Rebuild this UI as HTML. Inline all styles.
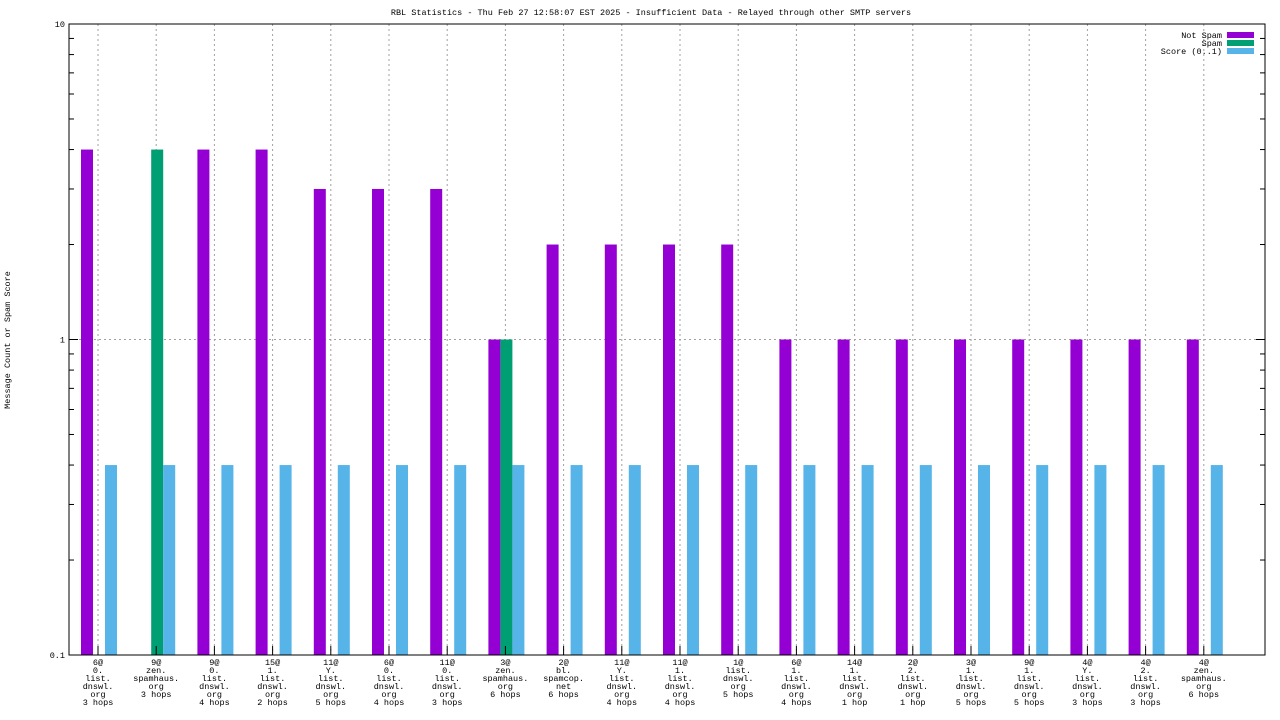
<!DOCTYPE html>
<html><head><meta charset="utf-8"><style>
body{margin:0;background:#fff;}
svg{display:block;font-family:"Liberation Mono","DejaVu Sans Mono",monospace;font-size:8.5px;}
</style></head><body>
<svg id="chart" width="1280" height="720" xmlns="http://www.w3.org/2000/svg">
<text x="651" y="15" text-anchor="middle">RBL Statistics - Thu Feb 27 12:58:07 EST 2025 - Insufficient Data - Relayed through other SMTP servers</text>
<text transform="translate(10,340) rotate(-90)" text-anchor="middle">Message Count or Spam Score</text>
<g id="grid"></g><g id="bars"></g><g id="axes"></g><g id="labels"></g>
<g>
<text x="1222" y="38" text-anchor="end">Not Spam</text>
<rect x="1227" y="32" width="27" height="6" fill="#9400d3"/>
<text x="1222" y="46" text-anchor="end">Spam</text>
<rect x="1227" y="40" width="27" height="6" fill="#009e73"/>
<text x="1222" y="54" text-anchor="end">Score (0..1)</text>
<rect x="1227" y="48" width="27" height="6" fill="#56b4e9"/>
</g>
</svg>
<script>
const categories=[
["6@","0.","list.","dnswl.","org","3 hops"],["9@","zen.","spamhaus.","org","3 hops"],["9@","0.","list.","dnswl.","org","4 hops"],["15@","1.","list.","dnswl.","org","2 hops"],["11@","Y.","list.","dnswl.","org","5 hops"],["6@","0.","list.","dnswl.","org","4 hops"],["11@","0.","list.","dnswl.","org","3 hops"],["3@","zen.","spamhaus.","org","6 hops"],["2@","bl.","spamcop.","net","6 hops"],["11@","Y.","list.","dnswl.","org","4 hops"],["11@","1.","list.","dnswl.","org","4 hops"],["1@","list.","dnswl.","org","5 hops"],["6@","1.","list.","dnswl.","org","4 hops"],["14@","1.","list.","dnswl.","org","1 hop"],["2@","2.","list.","dnswl.","org","1 hop"],["3@","1.","list.","dnswl.","org","5 hops"],["9@","1.","list.","dnswl.","org","5 hops"],["4@","Y.","list.","dnswl.","org","3 hops"],["4@","2.","list.","dnswl.","org","3 hops"],["4@","zen.","spamhaus.","org","6 hops"]];
const notSpam=[4,0,4,4,3,3,3,1,2,2,2,2,1,1,1,1,1,1,1,1];
const spam=[0,4,0,0,0,0,0,1,0,0,0,0,0,0,0,0,0,0,0,0];
const score=[0.4,0.4,0.4,0.4,0.4,0.4,0.4,0.4,0.4,0.4,0.4,0.4,0.4,0.4,0.4,0.4,0.4,0.4,0.4,0.4];
const yTicks=[0.1,1,10];
const yTickLabels=["0.1","1","10"];
const NS="http://www.w3.org/2000/svg";
const L=69,R=1265,T=24,B=655;
function y(v){return B-(Math.log10(v)+1)*(B-T)/2;}
function x(i){return 98+i*58.2;}
function mk(tag,attrs,parent){const e=document.createElementNS(NS,tag);for(const k in attrs)e.setAttribute(k,attrs[k]);document.getElementById(parent).appendChild(e);return e;}
// grid
categories.forEach((c,i)=>{const g=mk('line',{x1:x(i),x2:x(i),y1:T,y2:B,stroke:'#a0a0a0','stroke-dasharray':'2,3','stroke-width':1},'grid');

});
yTicks.forEach((t,k)=>{
 if(t>0.1&&t<10){const g=mk('line',{x1:L,x2:R,y1:y(t),y2:y(t),stroke:'#a0a0a0','stroke-dasharray':'2,3'},'grid');
 
 }
 const tl=mk('text',{x:L-4,y:y(t)+3,'text-anchor':'end'},'labels');tl.textContent=yTickLabels[k];
 
 
 [L,R].forEach(px=>{const tk=mk('line',{x1:px,x2:px+(px==L?9:-9),y1:y(t),y2:y(t),stroke:'#000'},'axes');
 
 });
});
[0.1,1].forEach(d=>{for(let m=2;m<=9;m++){const v=d*m;[L,R].forEach(px=>{const tk=mk('line',{x1:px,x2:px+(px==L?5:-5),y1:y(v),y2:y(v),stroke:'#000'},'axes');

});}});
// bars
function bar(v,x0,col,name){if(v<=0.1)return;const r=mk('rect',{x:x0,y:y(v),width:12,height:B-y(v),fill:col},'bars');

}
categories.forEach((c,i)=>{
 bar(notSpam[i],x(i)-17,'#9400d3','bar-not-spam');
 bar(spam[i],x(i)-5,'#009e73','bar-spam');
 bar(score[i],x(i)+7,'#56b4e9','bar-score');
 const tk=mk('line',{x1:x(i),x2:x(i),y1:B,y2:B-9,stroke:'#000'},'axes');
 
 
 const t=mk('text',{x:x(i),'text-anchor':'middle'},'labels');
 
 
 c.forEach((ln,j)=>{const s=document.createElementNS(NS,'tspan');s.setAttribute('x',x(i));s.setAttribute('y',665+j*8);s.textContent=ln;t.appendChild(s);});
});
const fr=mk('rect',{x:L,y:T,width:R-L,height:B-T,fill:'none',stroke:'#000'},'axes');


</script>
</body></html>
